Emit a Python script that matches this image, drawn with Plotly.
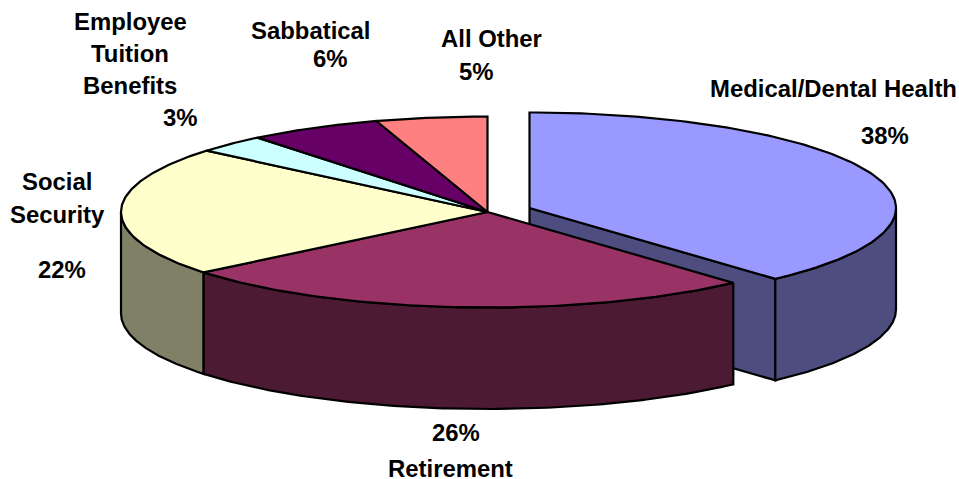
import numpy as np
import plotly.graph_objects as go

categories = ["Medical/Dental Health", "Retirement", "Social Security",
              "Employee Tuition Benefits", "Sabbatical", "All Other"]
values = [38.3, 25.8, 22.0, 3.1, 5.9, 4.9]
top_colors = ["#9999FF", "#993366", "#FFFFCC", "#CCFFFF", "#660066", "#FF8080"]
side_colors = ["#4D4D80", "#4D1A33", "#808066", "#668080", "#330033", "#804040"]

W, H = 959, 479
RX, RY, DEPTH = 366.5, 95.5, 101.5
CENTER = (487.5, 212.0)
EXPLODED = (529.5, 208.0)


def arc(center, a0, a1, dy=0.0):
    t = np.radians(np.linspace(a0, a1, 120))
    return center[0] + RX * np.sin(t), center[1] - RY * np.cos(t) + dy


fig = go.Figure()


def poly(x, y, color):
    fig.add_trace(go.Scatter(
        x=list(x) + [x[0]], y=list(y) + [y[0]], mode="lines", fill="toself",
        fillcolor=color, line=dict(color="black", width=2.2),
        hoverinfo="skip", showlegend=False))


edges = np.concatenate([[0], np.cumsum(values)]) * 3.6
slices = []
for i in range(len(values)):
    c = EXPLODED if i == 0 else CENTER
    slices.append((c, edges[i], edges[i + 1]))

# Medical slice: cut face, outer wall, top
c, a0, a1 = slices[0]
xe, ye = arc(c, a1, a1)
poly([c[0], xe[0], xe[0], c[0]], [c[1], ye[0], ye[0] + DEPTH, c[1] + DEPTH], side_colors[0])
xt, yt = arc(c, 90, a1)
xb, yb = arc(c, 90, a1, DEPTH)
poly(np.r_[xt, xb[::-1]], np.r_[yt, yb[::-1]], side_colors[0])
xt, yt = arc(c, a0, a1)
poly(np.r_[c[0], xt], np.r_[c[1], yt], top_colors[0])

# Front walls of the main body
for i in [2, 1]:
    c, a0, a1 = slices[i]
    lo, hi = max(a0, 90), min(a1, 270)
    xt, yt = arc(c, lo, hi)
    xb, yb = arc(c, lo, hi, DEPTH)
    poly(np.r_[xt, xb[::-1]], np.r_[yt, yb[::-1]], side_colors[i])

# Top faces of the main body
for i in range(1, len(values)):
    c, a0, a1 = slices[i]
    xt, yt = arc(c, a0, a1)
    poly(np.r_[c[0], xt], np.r_[c[1], yt], top_colors[i])

pct = [f"{round(v)}%" for v in values]
labels = [
    ("Medical/Dental Health", 833.5, 88), (pct[0], 885, 135),
    (pct[1], 456, 432), ("Retirement", 450, 468),
    ("Social", 57, 181), ("Security", 57, 214), (pct[2], 62, 269),
    ("Employee", 130, 21), ("Tuition", 130, 53), ("Benefits", 130, 85), (pct[3], 180, 117),
    ("Sabbatical", 311, 30), (pct[4], 330, 58),
    ("All Other", 491, 38), (pct[5], 476, 71),
]
for text, x, y in labels:
    fig.add_annotation(x=x, y=y, text=f"<b>{text}</b>", showarrow=False,
                       xanchor="center", yanchor="middle",
                       font=dict(family="Liberation Sans", size=23.9, color="black"))

fig.update_layout(
    width=W, height=H, margin=dict(l=0, r=0, t=0, b=0),
    paper_bgcolor="white", plot_bgcolor="white", showlegend=False,
    xaxis=dict(range=[0, W], visible=False, fixedrange=True),
    yaxis=dict(range=[H, 0], visible=False, fixedrange=True),
)
fig.write_html("out.html", config={"displayModeBar": False},
               post_script="document.body.style.margin='0';document.documentElement.style.overflow='hidden';")
